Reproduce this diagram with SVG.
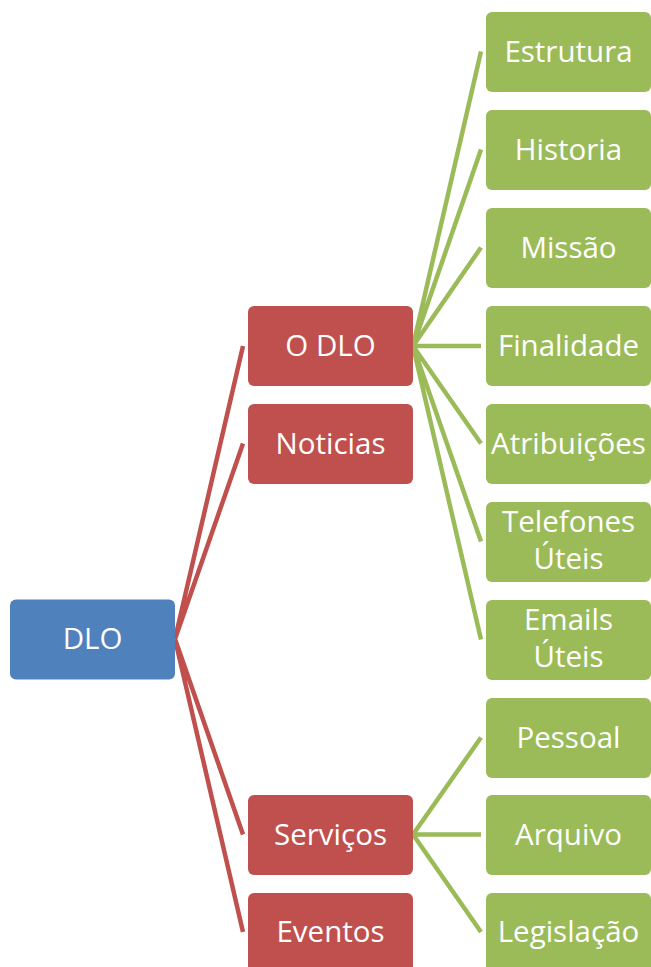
<svg xmlns="http://www.w3.org/2000/svg" width="651" height="967" viewBox="0 0 651 967">
<style>
.b{fill:#4F81BD}.r{fill:#C0504D}.g{fill:#9BBB59}
text{font-family:"Open Sans","Liberation Sans",sans-serif;font-size:29.5px;fill:#fff;text-anchor:middle;dominant-baseline:central}
.cr{stroke:#C0504D;stroke-width:4.5;fill:none}
.cg{stroke:#9BBB59;stroke-width:4.5;fill:none}
</style>
<rect width="651" height="967" fill="#fff"/>
<g id="connectors">
<path class="cr" d="M175 639L243 346M175 639L243 443.5M175 639L243 834.5M175 639L243 932"/>
<path class="cg" d="M413 346L481 51.5M413 346L481 149.5M413 346L481 247.5M413 346L481 346M413 346L481 443.5M413 346L481 541.5M413 346L481 639.5"/>
<path class="cg" d="M413 834.5L481 737.5M413 834.5L481 834.5M413 834.5L481 932"/>
</g>
<g id="dlo"><rect class="b" x="10" y="599.5" width="165" height="80" rx="6"/><text x="92.5" y="637">DLO</text></g>
<g id="odlo"><rect class="r" x="248" y="306" width="165" height="80" rx="6"/><text x="330.5" y="344">O DLO</text></g>
<g id="noticias"><rect class="r" x="248" y="404" width="165" height="80" rx="6"/><text x="330.5" y="442">Noticias</text></g>
<g id="servicos"><rect class="r" x="248" y="795" width="165" height="80" rx="6"/><text x="330.5" y="833">Serviços</text></g>
<g id="eventos"><rect class="r" x="248" y="893" width="165" height="80" rx="6"/><text x="330.5" y="930">Eventos</text></g>
<g id="estrutura"><rect class="g" x="486" y="12" width="165" height="80" rx="6"/><text x="568.5" y="50">Estrutura</text></g>
<g id="historia"><rect class="g" x="486" y="110" width="165" height="80" rx="6"/><text x="568.5" y="148">Historia</text></g>
<g id="missao"><rect class="g" x="486" y="208" width="165" height="80" rx="6"/><text x="568.5" y="246">Missão</text></g>
<g id="finalidade"><rect class="g" x="486" y="306" width="165" height="80" rx="6"/><text x="568.5" y="344">Finalidade</text></g>
<g id="atribuicoes"><rect class="g" x="486" y="404" width="165" height="80" rx="6"/><text x="568.5" y="442">Atribuições</text></g>
<g id="telefones"><rect class="g" x="486" y="502" width="165" height="80" rx="6"/><text x="568.5" y="520">Telefones</text><text x="568.5" y="557">Úteis</text></g>
<g id="emails"><rect class="g" x="486" y="600" width="165" height="80" rx="6"/><text x="568.5" y="618">Emails</text><text x="568.5" y="655">Úteis</text></g>
<g id="pessoal"><rect class="g" x="486" y="698" width="165" height="80" rx="6"/><text x="568.5" y="736">Pessoal</text></g>
<g id="arquivo"><rect class="g" x="486" y="795" width="165" height="80" rx="6"/><text x="568.5" y="833">Arquivo</text></g>
<g id="legislacao"><rect class="g" x="486" y="893" width="165" height="80" rx="6"/><text x="568.5" y="930">Legislação</text></g>
</svg>
